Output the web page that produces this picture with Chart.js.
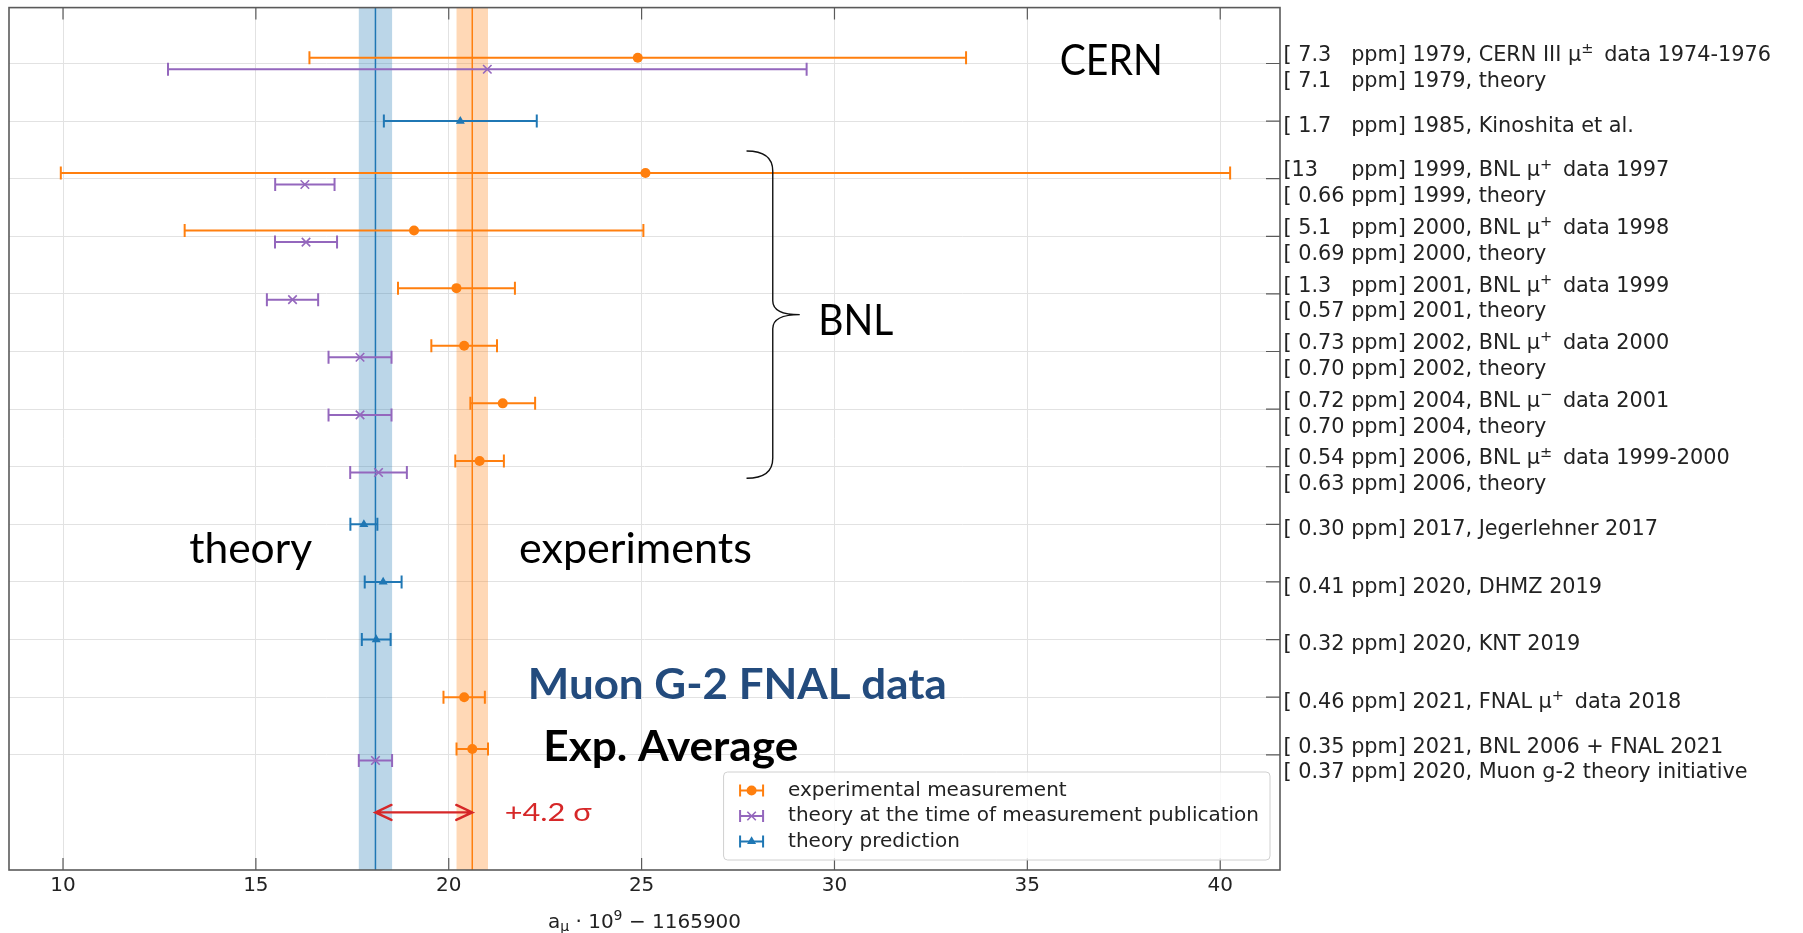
<!DOCTYPE html>
<html>
<head>
<meta charset="utf-8">
<title>Muon g-2: measurements and theory</title>
<script src="https://cdn.jsdelivr.net/npm/chart.js@4.4.1/dist/chart.umd.min.js"></script>
<style>
  html, body { margin: 0; padding: 0; background: #fff; }
  #wrap { position: relative; width: 1803px; height: 933px; }
</style>
</head>
<body>
<div id="wrap"><canvas id="g2Chart" width="1803" height="933"></canvas></div>
<script>
// a_mu * 1e9 - 1165900, one row per y tick (row 0 at the top)
const expRows   = [0, 2, 3, 4, 5, 6, 7, 11, 12];
const expValues = [24.9, 25.1, 19.1, 20.2, 20.4, 21.4, 20.8, 20.4, 20.61];
const expPpm    = [7.3, 13, 5.1, 1.3, 0.73, 0.72, 0.54, 0.46, 0.35];
const expText   = [
  '1979, CERN III μ^{±} data 1974-1976', '1999, BNL μ^{+} data 1997', '2000, BNL μ^{+} data 1998',
  '2001, BNL μ^{+} data 1999', '2002, BNL μ^{+} data 2000', '2004, BNL μ^{−} data 2001',
  '2006, BNL μ^{±} data 1999-2000', '2021, FNAL μ^{+} data 2018', '2021, BNL 2006 + FNAL 2021'
];

const thRows   = [0, 2, 3, 4, 5, 6, 7, 12];
const thValues = [21.0, 16.27, 16.3, 15.95, 17.7, 17.7, 18.18, 18.10];
const thPpm    = [7.1, 0.66, 0.69, 0.57, 0.70, 0.70, 0.63, 0.37];
const thText   = [
  '1979, theory', '1999, theory', '2000, theory', '2001, theory', '2002, theory',
  '2004, theory', '2006, theory', '2020, Muon g-2 theory initiative'
];

const predRows   = [1, 8, 9, 10];
const predValues = [20.3, 17.8, 18.3, 18.12];
const predPpm    = [1.7, 0.30, 0.41, 0.32];
const predText   = ['1985, Kinoshita et al.', '2017, Jegerlehner 2017', '2020, DHMZ 2019', '2020, KNT 2019'];

const xTicks = [10, 15, 20, 25, 30, 35, 40];
const sigmaText = '+4.2 σ';

const LABEL_FONT = '"DejaVu Sans", Verdana, sans-serif';
const NOTE_FONT = 'Lato, "Open Sans", sans-serif';
const C = { orange: '#ff7f0e', purple: '#9467bd', blue: '#1f77b4', red: '#d62728', axis: '#5a5a5a', text: '#222' };

// ppm is relative to a_mu, values are in units of 1e-9
const halfWidth = (v, ppm) => ppm * 1e-6 * (1165900 + v);

// digits are twice as wide as '.' and ' ' in DejaVu Sans, so pad with spaces to line up "ppm"
function ppmField(p) {
  const s = p >= 10 ? String(p) : ' ' + (p < 1 ? p.toFixed(2) : p.toFixed(1));
  let w = 0;
  for (const c of s) w += /\d/.test(c) ? 2 : 1;
  return s + ' '.repeat(Math.max(0, 8 - w));
}
const tag = (p, txt) => '[' + ppmField(p) + ' ppm] ' + txt;

const rowLines = [];
for (let r = 0; r <= 12; r++) {
  const lines = [];
  expRows.forEach((row, i) => { if (row === r) lines.push(tag(expPpm[i], expText[i])); });
  predRows.forEach((row, i) => { if (row === r) lines.push(tag(predPpm[i], predText[i])); });
  thRows.forEach((row, i) => { if (row === r) lines.push(tag(thPpm[i], thText[i])); });
  rowLines.push(lines);
}

// rows holding an experiment and its theory get the two points nudged apart
const shared = expRows.filter(r => thRows.includes(r));
const points = (rows, values, ppm, shift) => rows.map((r, i) => ({
  x: values[i],
  y: shared.includes(r) ? r + shift : r,
  err: halfWidth(values[i], ppm[i])
}));

const bands = [
  { value: thValues[thValues.length - 1], err: halfWidth(thValues[thValues.length - 1], thPpm[thPpm.length - 1]),
    fill: 'rgba(31,119,180,0.3)', line: C.blue },
  { value: expValues[expValues.length - 1], err: halfWidth(expValues[expValues.length - 1], expPpm[expPpm.length - 1]),
    fill: 'rgba(255,127,14,0.3)', line: C.orange }
];

// text drawn over the plot, anchored in data coordinates (x value, row)
const notes = [
  { text: 'CERN', x: 35.84, y: 0.2, size: 42, weight: '400', color: '#000', width: 103 },
  { text: 'BNL', x: 29.58, y: 4.72, size: 42, weight: '400', color: '#000', width: 75 },
  { text: 'theory', x: 13.27, y: 8.67, size: 42, weight: '400', color: '#000', width: 123 },
  { text: 'experiments', x: 21.82, y: 8.67, size: 42, weight: '400', color: '#000', width: 233 },
  { text: 'Muon G-2 FNAL data', x: 22.05, y: 11.04, size: 42, weight: '700', color: '#234b7d', width: 419 },
  { text: 'Exp. Average', x: 22.45, y: 12.1, size: 42, weight: '700', color: '#000', width: 255 },
  { text: sigmaText, x: 21.45, y: 13.15, size: 25, weight: '400', color: C.red, width: 87 }
];

// draws a string with ^{..} and _{..} pieces, returns the end x
function drawRich(ctx, str, x, y, size, family, opts = {}) {
  const parts = str.split(/([\^_]\{[^}]*\})/);
  for (const part of parts) {
    if (!part) continue;
    let s = part, fs = size, dy = 0, after = 0;
    if (part.startsWith('^{')) { s = part.slice(2, -1); fs = size * 0.7; dy = -size * 0.38; after = size * (opts.supGap || 0); }
    else if (part.startsWith('_{')) { s = part.slice(2, -1); fs = size * 0.7; dy = size * 0.18; }
    ctx.font = fs + 'px ' + family;
    if (!opts.measureOnly) ctx.fillText(s, x, y + dy);
    x += ctx.measureText(s).width + after;
  }
  return x;
}

function fitText(ctx, n, px, py) {
  ctx.font = n.weight + ' ' + n.size + 'px ' + NOTE_FONT;
  const w = ctx.measureText(n.text).width;
  ctx.save();
  ctx.translate(px, py);
  ctx.scale(n.width / w, 1);
  ctx.fillStyle = n.color;
  ctx.textBaseline = 'alphabetic';
  ctx.textAlign = 'left';
  ctx.fillText(n.text, 0, 0);
  ctx.restore();
}

function drawBrace(ctx, x, y) {
  const xe = x.getPixelForValue(27.72), xs = x.getPixelForValue(28.40), xt = x.getPixelForValue(29.10);
  const yt = y.getPixelForValue(1.52), ym = y.getPixelForValue(4.36), yb = y.getPixelForValue(7.2);
  const r = 20, rt = 14;
  ctx.beginPath();
  ctx.moveTo(xe, yt);
  ctx.quadraticCurveTo(xs, yt, xs, yt + r);
  ctx.lineTo(xs, ym - rt);
  ctx.quadraticCurveTo(xs, ym, xt, ym);
  ctx.quadraticCurveTo(xs, ym, xs, ym + rt);
  ctx.lineTo(xs, yb - r);
  ctx.quadraticCurveTo(xs, yb, xe, yb);
  ctx.strokeStyle = '#111';
  ctx.lineWidth = 1.4;
  ctx.stroke();
}

function drawArrow(ctx, x0, x1, yp) {
  const hl = 16, hw = 7.5;
  ctx.strokeStyle = C.red;
  ctx.lineWidth = 2.4;
  ctx.lineCap = 'round';
  ctx.beginPath();
  ctx.moveTo(x0, yp); ctx.lineTo(x1, yp);
  ctx.moveTo(x0 + hl, yp - hw); ctx.lineTo(x0, yp); ctx.lineTo(x0 + hl, yp + hw);
  ctx.moveTo(x1 - hl, yp - hw); ctx.lineTo(x1, yp); ctx.lineTo(x1 - hl, yp + hw);
  ctx.stroke();
  ctx.lineCap = 'butt';
}

function errorBar(ctx, xl, xr, yp, cap) {
  ctx.beginPath();
  ctx.moveTo(xl, yp); ctx.lineTo(xr, yp);
  ctx.moveTo(xl, yp - cap); ctx.lineTo(xl, yp + cap);
  ctx.moveTo(xr, yp - cap); ctx.lineTo(xr, yp + cap);
  ctx.stroke();
}

function marker(ctx, ds, px, py) {
  ctx.fillStyle = ds.backgroundColor;
  ctx.strokeStyle = ds.borderColor;
  ctx.lineWidth = ds.pointBorderWidth;
  Chart.helpers.drawPoint(ctx, {
    pointStyle: ds.pointStyle, radius: ds.pointRadius, rotation: 0, borderWidth: ds.pointBorderWidth
  }, px, py);
}

const g2Plugin = {
  id: 'g2Plugin',
  beforeDatasetsDraw(chart) {
    const { ctx, chartArea: a, scales: { x, y } } = chart;
    ctx.save();
    ctx.beginPath();
    ctx.rect(a.left, a.top, a.width, a.height);
    ctx.clip();
    bands.forEach(b => {
      const x0 = x.getPixelForValue(b.value - b.err), x1 = x.getPixelForValue(b.value + b.err);
      ctx.fillStyle = b.fill;
      ctx.fillRect(x0, a.top, x1 - x0, a.height);
      const xm = x.getPixelForValue(b.value);
      ctx.strokeStyle = b.line;
      ctx.lineWidth = 1.5;
      ctx.beginPath(); ctx.moveTo(xm, a.top); ctx.lineTo(xm, a.bottom); ctx.stroke();
    });
    chart.data.datasets.forEach(ds => {
      ctx.strokeStyle = ds.barColor;
      ctx.lineWidth = 2;
      ds.data.forEach(p => {
        errorBar(ctx, x.getPixelForValue(p.x - p.err), x.getPixelForValue(p.x + p.err), y.getPixelForValue(p.y), 6.5);
      });
    });
    ctx.restore();
  },
  afterDraw(chart) {
    const { ctx, chartArea: a, scales: { x, y } } = chart;
    ctx.save();

    // frame with inward ticks
    ctx.strokeStyle = C.axis;
    ctx.lineWidth = 1.2;
    ctx.beginPath();
    xTicks.forEach(v => {
      const px = x.getPixelForValue(v);
      ctx.moveTo(px, a.bottom); ctx.lineTo(px, a.bottom - 12);
      ctx.moveTo(px, a.top); ctx.lineTo(px, a.top + 12);
    });
    rowLines.forEach((_, r) => {
      const py = y.getPixelForValue(r);
      ctx.moveTo(a.right, py); ctx.lineTo(a.right - 14, py);
    });
    ctx.stroke();
    ctx.lineWidth = 1.6;
    ctx.strokeRect(a.left, a.top, a.width, a.height);

    // row labels on the right
    ctx.fillStyle = C.text;
    ctx.textAlign = 'left';
    ctx.textBaseline = 'alphabetic';
    rowLines.forEach((lines, r) => {
      const py = y.getPixelForValue(r);
      const first = py + 10.6 - (lines.length - 1) * 12.85;
      lines.forEach((ln, k) => drawRich(ctx, ln, a.right + 3.5, first + k * 25.7, 20.8, LABEL_FONT, { supGap: 0.2 }));
    });

    // x axis title
    const title = 'a_{μ} · 10^{9} − 1165900';
    const tw = drawRich(ctx, title, 0, 0, 20, LABEL_FONT, { measureOnly: true });
    drawRich(ctx, title, (a.left + a.right) / 2 - tw / 2, a.bottom + 57.7, 20, LABEL_FONT);

    // annotations
    drawBrace(ctx, x, y);
    drawArrow(ctx, x.getPixelForValue(bands[0].value), x.getPixelForValue(bands[1].value), y.getPixelForValue(13.0));
    notes.forEach(n => fitText(ctx, n, x.getPixelForValue(n.x), y.getPixelForValue(n.y)));

    // legend, lower right inside the axes
    const fs = 20, gap = 25.5;
    ctx.font = fs + 'px ' + LABEL_FONT;
    const maxW = Math.max(...chart.data.datasets.map(ds => ctx.measureText(ds.label).width));
    const bw = 64.5 + maxW + 11, bh = 18.5 * 2 + gap * 2;
    const bx = a.right - 10 - bw, by = a.bottom - 10 - bh;
    ctx.beginPath();
    ctx.roundRect(bx, by, bw, bh, 4);
    ctx.fillStyle = 'rgba(255,255,255,0.8)';
    ctx.fill();
    ctx.strokeStyle = '#d0d0d0';
    ctx.lineWidth = 1;
    ctx.stroke();
    chart.data.datasets.forEach((ds, i) => {
      const cy = by + 18.5 + i * gap, cx = bx + 28;
      ctx.strokeStyle = ds.barColor;
      ctx.lineWidth = 2;
      errorBar(ctx, cx - 11.5, cx + 11.5, cy, 6);
      marker(ctx, ds, cx, cy);
      ctx.fillStyle = C.text;
      ctx.font = fs + 'px ' + LABEL_FONT;
      ctx.textBaseline = 'middle';
      ctx.fillText(ds.label, bx + 64.5, cy);
    });
    ctx.restore();
  }
};

function build() {
  new Chart(document.getElementById('g2Chart'), {
    type: 'scatter',
    data: {
      datasets: [
        {
          label: 'experimental measurement',
          data: points(expRows, expValues, expPpm, -0.1),
          pointStyle: 'circle', pointRadius: 5, pointBorderWidth: 0,
          backgroundColor: C.orange, borderColor: C.orange, barColor: C.orange
        },
        {
          label: 'theory at the time of measurement publication',
          data: points(thRows, thValues, thPpm, 0.1),
          pointStyle: 'crossRot', pointRadius: 6, pointBorderWidth: 1.6,
          backgroundColor: C.purple, borderColor: C.purple, barColor: C.purple
        },
        {
          label: 'theory prediction',
          data: points(predRows, predValues, predPpm, 0),
          pointStyle: 'triangle', pointRadius: 5.2, pointBorderWidth: 0,
          backgroundColor: C.blue, borderColor: C.blue, barColor: C.blue
        }
      ]
    },
    options: {
      responsive: false,
      animation: false,
      devicePixelRatio: 1,
      layout: { padding: { left: 9, top: 5, right: 0, bottom: 0 } },
      plugins: { legend: { display: false }, tooltip: { enabled: false } },
      scales: {
        x: {
          type: 'linear',
          position: 'bottom',
          min: 8.6,
          max: 41.55,
          afterBuildTicks: s => { s.ticks = xTicks.map(v => ({ value: v })); },
          afterFit: s => { s.height = 63; },
          grid: { color: '#e2e2e2', lineWidth: 1, drawTicks: false },
          border: { display: false },
          ticks: {
            font: { family: LABEL_FONT, size: 20 },
            color: C.text, padding: 4, maxRotation: 0, autoSkip: false
          }
        },
        y: {
          type: 'linear',
          position: 'right',
          reverse: true,
          min: -0.97,
          max: 14,
          afterBuildTicks: s => { s.ticks = rowLines.map((_, i) => ({ value: i })); },
          afterFit: s => { s.width = 523; },
          grid: { color: '#e2e2e2', lineWidth: 1, drawTicks: false },
          border: { display: false },
          ticks: { display: false }
        }
      }
    },
    plugins: [g2Plugin]
  });
}

Promise.all([
  document.fonts.load('42px Lato'),
  document.fonts.load('700 42px Lato'),
  document.fonts.load('20px "DejaVu Sans"')
]).catch(() => {}).then(build);
</script>
</body>
</html>
